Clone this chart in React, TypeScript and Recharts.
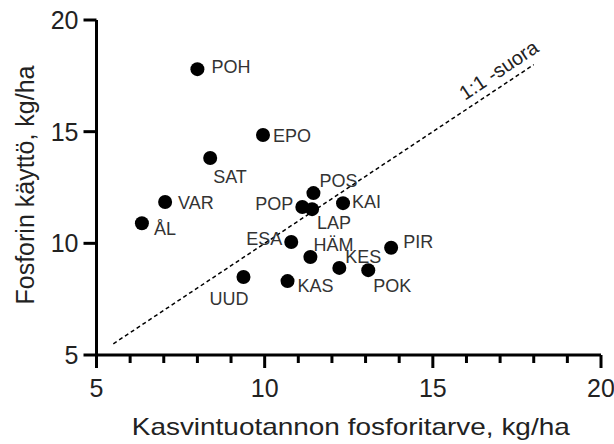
import React from 'react';
import { ScatterChart, Scatter, XAxis, YAxis, ReferenceLine, ReferenceDot } from 'recharts';

// Maakunnat: kasvintuotannon fosforitarve (x) ja fosforin käyttö (y), kg/ha
const REGIONS = ['POH', 'EPO', 'SAT', 'VAR', 'ÅL', 'POP', 'POS', 'KAI', 'LAP', 'ESA', 'HÄM', 'KES', 'POK', 'PIR', 'KAS', 'UUD'];
const NEED = [8.0, 9.95, 8.38, 7.04, 6.35, 11.12, 11.45, 12.33, 11.41, 10.79, 11.36, 12.22, 13.08, 13.76, 10.68, 9.37];
const USE = [17.8, 14.85, 13.82, 11.85, 10.9, 11.63, 12.25, 11.8, 11.53, 10.06, 9.39, 8.9, 8.8, 9.8, 8.31, 8.49];

const X_TICKS = [5, 6, 7, 8, 9, 10, 11, 12, 13, 14, 15, 16, 17, 18, 19, 20];
const Y_TICKS = [5, 10, 15, 20];
const ONE_TO_ONE = [5.5, 18];

// label placement around each dot: [dx, dy, anchor]
const LABEL_POS: Record<string, [number, number, string]> = {
  POH: [14, -3, 'start'],
  EPO: [10, 0, 'start'],
  SAT: [3, 18, 'start'],
  VAR: [13, 0, 'start'],
  'ÅL': [12, 5, 'start'],
  POP: [-9, -3, 'end'],
  POS: [6, -13, 'start'],
  KAI: [9, -2, 'start'],
  LAP: [5, 13, 'start'],
  ESA: [-9, -3, 'end'],
  'HÄM': [3, -12, 'start'],
  KES: [6, -11, 'start'],
  POK: [5, 15, 'start'],
  PIR: [12, -6, 'start'],
  KAS: [10, 4, 'start'],
  UUD: [5, 21, 'end'],
};

const data = REGIONS.map((name, i) => ({ name, x: NEED[i], y: USE[i] }));

const FONT = '"Liberation Sans", Arial, sans-serif';

const XTick = ({ x, y, payload }: any) => {
  const major = payload.value % 5 === 0;
  return (
    <g>
      <line x1={x} x2={x} y1={y} y2={y + (major ? 13 : 8)} stroke="#000" strokeWidth={3} />
      {major && (
        <text x={x} y={y + 42} textAnchor="middle" fontSize={25} fill="#222" fontFamily={FONT}>
          {payload.value}
        </text>
      )}
    </g>
  );
};

const Dot = (props: any) => {
  const { cx, cy, payload } = props;
  const [dx, dy, anchor] = LABEL_POS[payload.name] || [10, 0, 'start'];
  return (
    <g>
      <circle cx={cx} cy={cy} r={7} fill="#000" />
      <text x={cx + dx} y={cy + dy + 6.5} textAnchor={anchor} fontSize={18} fill="#333" fontFamily={FONT}>
        {payload.name}
      </text>
    </g>
  );
};

const LineLabel = (props: any) => {
  const { cx, cy } = props;
  return (
    <text
      transform={`translate(${cx},${cy}) rotate(-33.6)`}
      x={0}
      y={-8}
      textAnchor="middle"
      fontSize={20}
      fill="#222"
      fontFamily={FONT}
    >
      1:1 -suora
    </text>
  );
};

export default function App() {
  return (
    <div style={{ position: 'absolute', left: 0, top: 0, width: 614, height: 444, background: '#fff', fontFamily: FONT }}>
      <ScatterChart width={614} height={444} margin={{ top: 20, right: 13, bottom: 19, left: 36.5 }}>
        <XAxis
          type="number"
          dataKey="x"
          domain={[5, 20]}
          ticks={X_TICKS}
          interval={0}
          height={70}
          axisLine={{ stroke: '#000', strokeWidth: 3 }}
          tickLine={false}
          tickSize={0}
          tickMargin={0}
          tick={<XTick />}
          label={{
            content: ({ viewBox }: any) => (
              <text
                x={viewBox.x + viewBox.width / 2 + 2}
                y={viewBox.y + 80}
                textAnchor="middle"
                fontSize={24}
                textLength={438}
                lengthAdjust="spacingAndGlyphs"
                fill="#222"
                fontFamily={FONT}
              >
                Kasvintuotannon fosforitarve, kg/ha
              </text>
            ),
          }}
        />
        <YAxis
          type="number"
          dataKey="y"
          domain={[5, 20]}
          ticks={Y_TICKS}
          interval={0}
          width={60}
          axisLine={{ stroke: '#000', strokeWidth: 3 }}
          tickLine={{ stroke: '#000', strokeWidth: 3 }}
          tickSize={13}
          tickMargin={5}
          tick={{ fontSize: 25, fill: '#222', fontFamily: FONT }}
          label={{
            content: ({ viewBox }: any) => {
              const cx = viewBox.x - 11.5;
              const cy = viewBox.y + viewBox.height / 2 - 2.5;
              return (
                <text
                  transform={`translate(${cx},${cy}) rotate(-90)`}
                  x={0}
                  y={9}
                  textAnchor="middle"
                  fontSize={25}
                  fill="#222"
                  fontFamily={FONT}
                >
                  Fosforin käyttö, kg/ha
                </text>
              );
            },
          }}
        />
        <ReferenceLine
          segment={[
            { x: ONE_TO_ONE[0], y: ONE_TO_ONE[0] },
            { x: ONE_TO_ONE[1], y: ONE_TO_ONE[1] },
          ]}
          stroke="#000"
          strokeWidth={1.5}
          strokeDasharray="4 3"
        />
        <ReferenceDot x={17.2} y={17.2} shape={<LineLabel />} />
        <Scatter data={data} shape={<Dot />} isAnimationActive={false} />
      </ScatterChart>
    </div>
  );
}
